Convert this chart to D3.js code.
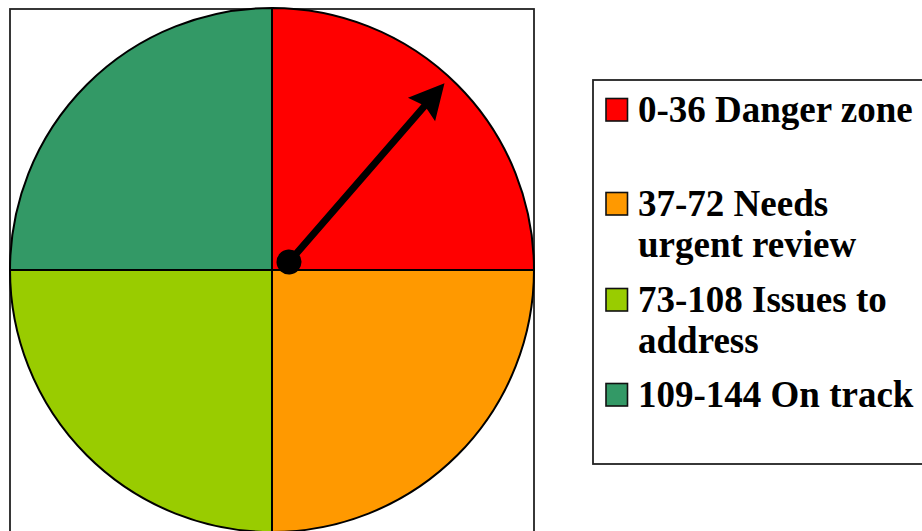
<!DOCTYPE html>
<html><head><meta charset="utf-8">
<script src="https://cdn.jsdelivr.net/npm/d3@7"></script>
<style>html,body{margin:0;padding:0;background:#fff;overflow:hidden}svg{display:block}
.lgtext{font-family:"Liberation Serif","Times New Roman",Times,"DejaVu Serif",serif;font-weight:bold;font-size:37px}</style>
</head><body>
<svg id="chart" width="922" height="531"></svg>
<script>
// ---- data ----
const categories = ["0-36 Danger zone", "37-72 Needs urgent review", "73-108 Issues to address", "109-144 On track"];
const legendLines = [["0-36 Danger zone"], ["37-72 Needs", "urgent review"], ["73-108 Issues to", "address"], ["109-144 On track"]];
const bandValues = [36, 36, 36, 36];
const colors = ["#FF0000", "#FF9900", "#99CC00", "#339966"];
const gaugeMax = 144;
const needleValue = 16.4;

// ---- layout ----
const svg = d3.select("#chart");
const cx = 272, cy = 270, R = 262;
const pivotDx = 17, pivotDy = -8;
const needleLen = 237, shaftW = 7, headLen = 35, headW = 36, dotR = 12.5;

// plot frame
svg.append("rect").attr("x", 10).attr("y", 9).attr("width", 524).attr("height", 540)
  .attr("fill", "#fff").attr("stroke", "#222").attr("stroke-width", 1.8);

const pie = d3.pie().sort(null).value(d => d).startAngle(0).endAngle(2 * Math.PI);
const arc = d3.arc().innerRadius(0).outerRadius(R);
const g = svg.append("g").attr("transform", `translate(${cx},${cy})`);
g.selectAll("path").data(pie(bandValues)).join("path")
  .attr("d", arc).attr("fill", (d, i) => colors[i])
  .attr("stroke", "#000").attr("stroke-width", 2).attr("stroke-linejoin", "round");

// needle
const angle = d3.scaleLinear().domain([0, gaugeMax]).range([0, 360]);
const ng = svg.append("g")
  .attr("transform", `translate(${cx + pivotDx},${cy + pivotDy}) rotate(${angle(needleValue)})`);
const L = needleLen;
const pts = [
  [-shaftW / 2, 0], [-shaftW / 2, -(L - headLen + 4)], [-headW / 2, -(L - headLen)],
  [0, -L], [headW / 2, -(L - headLen)], [shaftW / 2, -(L - headLen + 4)], [shaftW / 2, 0]
];
ng.append("path").attr("d", d3.line()(pts) + "Z").attr("fill", "#000");
ng.append("circle").attr("r", dotR).attr("fill", "#000");

// legend
const lg = svg.append("g");
lg.append("rect").attr("x", 593).attr("y", 80).attr("width", 340).attr("height", 384)
  .attr("fill", "#fff").attr("stroke", "#222").attr("stroke-width", 1.8);
const itemBase = [122, 216, 312, 407];
const lineH = 40.5;
legendLines.forEach((lines, i) => {
  lg.append("rect").attr("x", 606).attr("y", itemBase[i] - 23.5).attr("width", 21.5).attr("height", 22.5)
    .attr("fill", colors[i]).attr("stroke", "#111").attr("stroke-width", 1.6);
  const t = lg.append("text").attr("class", "lgtext").attr("x", 638).attr("y", itemBase[i]).attr("fill", "#000");
  lines.forEach((s, j) => t.append("tspan").attr("x", 638).attr("y", itemBase[i] + j * lineH).text(s));
});
</script>
</body></html>
